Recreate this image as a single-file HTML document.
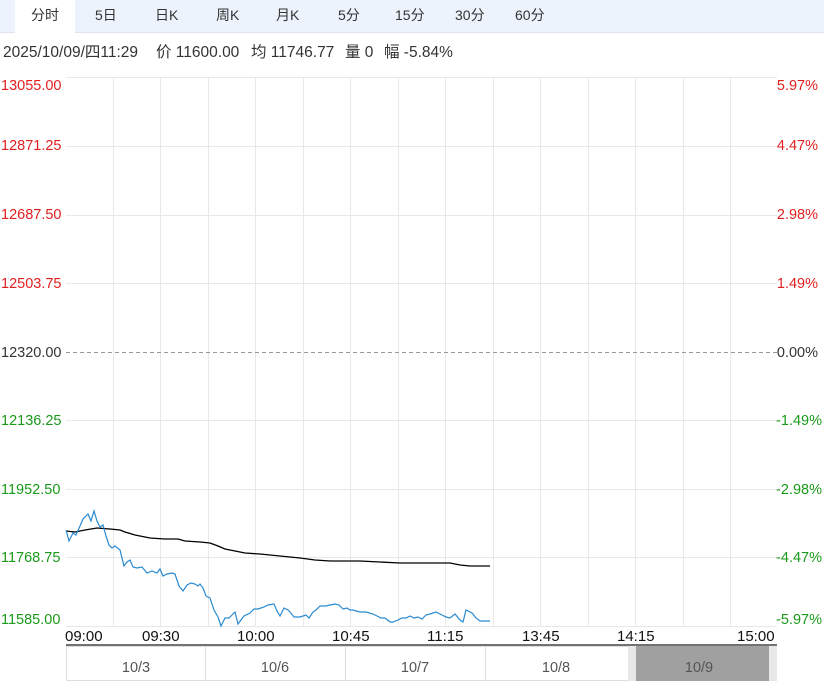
<!DOCTYPE html><html><head><meta charset="utf-8"><style>
body{margin:0;width:824px;height:683px;background:#fff;font-family:"Liberation Sans","Noto Sans CJK SC",sans-serif;overflow:hidden;position:relative}
.tabs{position:absolute;left:0;top:0;width:824px;height:32px;background:#edf3fd;border-bottom:1px solid #dde3ec}
.tab{position:absolute;top:5px;font-size:14px;color:#333}
.act{position:absolute;left:15px;top:0;width:60px;height:33px;background:#fff}
.h{position:absolute;top:40px;font-size:15.5px;color:#333;white-space:nowrap}
</style></head><body>
<div class="tabs"><div class="act"></div>
<span class="tab" style="left:31px">分时</span><span class="tab" style="left:95px">5日</span><span class="tab" style="left:155px">日K</span><span class="tab" style="left:216px">周K</span><span class="tab" style="left:276px">月K</span><span class="tab" style="left:338px">5分</span><span class="tab" style="left:395px">15分</span><span class="tab" style="left:455px">30分</span><span class="tab" style="left:515px">60分</span></div>
<span class="h" style="left:3px">2025/10/09/四11:29</span><span class="h" style="left:156px">价 11600.00</span><span class="h" style="left:251px">均 11746.77</span><span class="h" style="left:345px">量 0</span><span class="h" style="left:384px">幅 -5.84%</span>
<svg width="824" height="683" style="position:absolute;left:0;top:0" font-family="Liberation Sans, sans-serif" font-size="14.5">
<g stroke="#e8e8e8" stroke-width="1">
<line x1="66" y1="77.5" x2="777" y2="77.5"/><line x1="66" y1="146.5" x2="777" y2="146.5"/><line x1="66" y1="215.5" x2="777" y2="215.5"/><line x1="66" y1="283.5" x2="777" y2="283.5"/><line x1="66" y1="420.5" x2="777" y2="420.5"/><line x1="66" y1="489.5" x2="777" y2="489.5"/><line x1="66" y1="557.5" x2="777" y2="557.5"/><line x1="66" y1="626.5" x2="777" y2="626.5"/>
<line x1="113.5" y1="77" x2="113.5" y2="626"/><line x1="160.5" y1="77" x2="160.5" y2="626"/><line x1="208.5" y1="77" x2="208.5" y2="626"/><line x1="255.5" y1="77" x2="255.5" y2="626"/><line x1="303.5" y1="77" x2="303.5" y2="626"/><line x1="350.5" y1="77" x2="350.5" y2="626"/><line x1="398.5" y1="77" x2="398.5" y2="626"/><line x1="445.5" y1="77" x2="445.5" y2="626"/><line x1="493.5" y1="77" x2="493.5" y2="626"/><line x1="540.5" y1="77" x2="540.5" y2="626"/><line x1="588.5" y1="77" x2="588.5" y2="626"/><line x1="635.5" y1="77" x2="635.5" y2="626"/><line x1="683.5" y1="77" x2="683.5" y2="626"/><line x1="730.5" y1="77" x2="730.5" y2="626"/>
</g>
<line x1="66" y1="352.5" x2="777" y2="352.5" stroke="#999" stroke-dasharray="4,3"/>
<g fill="#e02020"><text x="1" y="90">13055.00</text><text x="1" y="150">12871.25</text><text x="1" y="219">12687.50</text><text x="1" y="288">12503.75</text></g>
<text x="1" y="357" fill="#333">12320.00</text>
<g fill="#1a9a1a"><text x="1" y="425">12136.25</text><text x="1" y="494">11952.50</text><text x="1" y="562">11768.75</text><text x="1" y="624">11585.00</text></g>
<g fill="#e02020" text-anchor="end"><text x="818" y="90">5.97%</text><text x="818" y="150">4.47%</text><text x="818" y="219">2.98%</text><text x="818" y="288">1.49%</text></g>
<text x="818" y="357" fill="#333" text-anchor="end">0.00%</text>
<g fill="#1a9a1a" text-anchor="end"><text x="822" y="425">-1.49%</text><text x="822" y="494">-2.98%</text><text x="822" y="562">-4.47%</text><text x="822" y="624">-5.97%</text></g>
<polyline fill="none" stroke="#000" stroke-width="1.3" points="66,531 75,532 85,530 97,528 110,529 120,530 125,532 135,535 150,538 165,539 178,539 185,541 200,542 210,543 218,546 225,549 235,551 245,553 260,554 280,556 300,558 315,560 330,561 360,561 380,562 400,563 420,563 450,563 460,565 470,566 490,566"/>
<polyline fill="none" stroke="#2a8ad0" stroke-width="1.2" points="66,530 69,541 73,533 76,535 80,526 83,519 88,514 91,521 94,511 97,521 100,527 103,525 106,536 109,545 112,548 115,546 120,550 124,566 127,562 130,560 133,567 137,568 142,567 147,573 152,571 157,573 160,569 163,576 167,574 172,573 175,574 179,586 183,591 187,585 191,583 195,584 198,586 200,584 203,588 206,596 210,598 214,610 218,617 221,626 225,618 229,618 232,615 235,612 238,624 241,620 244,616 250,613 254,609 258,609 264,607 268,605 274,604 277,611 280,616 284,608 288,610 290,612 294,617 300,617 306,615 309,618 313,612 316,610 320,606 326,606 330,605 335,604 339,605 343,609 347,608 350,610 353,610 356,611 360,612 366,612 373,614 377,616 381,618 385,618 390,622 393,622 398,620 402,618 406,618 410,616 414,618 418,617 422,619 426,615 430,614 436,612 442,615 446,617 450,618 455,614 460,620 463,622 466,610 472,613 476,618 480,621 490,621"/>
<g fill="#111" font-size="15"><text x="65" y="641">09:00</text><text x="142" y="641">09:30</text><text x="237" y="641">10:00</text><text x="332" y="641">10:45</text><text x="427" y="641">11:15</text><text x="522" y="641">13:45</text><text x="617" y="641">14:15</text><text x="737" y="641">15:00</text></g>
<line x1="66" y1="645" x2="777" y2="645" stroke="#444" stroke-width="1.5"/>
<rect x="66.5" y="646.5" width="710" height="34" fill="#fff" stroke="#ddd"/>
<g stroke="#ddd"><line x1="205.5" y1="646" x2="205.5" y2="681"/><line x1="345.5" y1="646" x2="345.5" y2="681"/><line x1="485.5" y1="646" x2="485.5" y2="681"/></g>
<rect x="628" y="646" width="142" height="35" fill="#a0a0a0"/>
<rect x="628" y="646" width="8" height="35" fill="#e8e8e8"/><rect x="769" y="646" width="8" height="35" fill="#e8e8e8"/>
<g fill="#555" text-anchor="middle"><text x="136" y="672">10/3</text><text x="275" y="672">10/6</text><text x="415" y="672">10/7</text><text x="556" y="672">10/8</text><text x="699" y="672">10/9</text></g>
</svg>
</body></html>
